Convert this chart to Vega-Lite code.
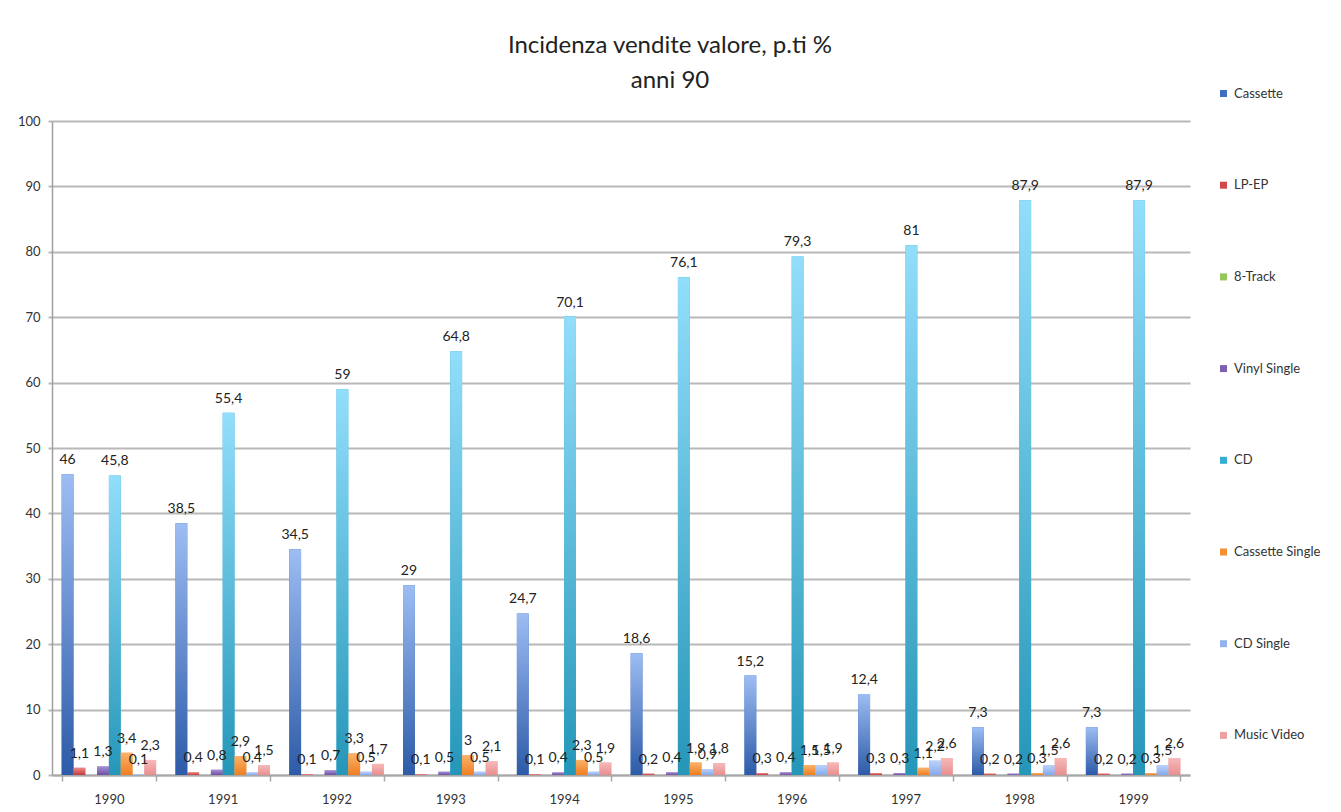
{
  "$schema": "https://vega.github.io/schema/vega-lite/v6.json",
  "autosize": {"type": "none"},
  "padding": {"left": 52, "top": 121, "right": 151, "bottom": 37},
  "width": 1138,
  "height": 654,
  "background": "white",
  "title": {
    "text": ["Incidenza vendite valore, p.ti %", "anni 90"],
    "anchor": "middle",
    "dx": 49,
    "dy": 36,
    "offset": 30,
    "fontSize": 24,
    "fontWeight": "normal",
    "font": "Lato",
    "color": "#222222",
    "lineHeight": 35
  },
  "data": {
    "values": [
      {"anno": "1990", "formato": "Cassette", "quota": 46},
      {"anno": "1990", "formato": "LP-EP", "quota": 1.1},
      {"anno": "1990", "formato": "Vinyl Single", "quota": 1.3},
      {"anno": "1990", "formato": "CD", "quota": 45.8},
      {"anno": "1990", "formato": "Cassette Single", "quota": 3.4},
      {"anno": "1990", "formato": "CD Single", "quota": 0.1},
      {"anno": "1990", "formato": "Music Video", "quota": 2.3},
      {"anno": "1991", "formato": "Cassette", "quota": 38.5},
      {"anno": "1991", "formato": "LP-EP", "quota": 0.4},
      {"anno": "1991", "formato": "Vinyl Single", "quota": 0.8},
      {"anno": "1991", "formato": "CD", "quota": 55.4},
      {"anno": "1991", "formato": "Cassette Single", "quota": 2.9},
      {"anno": "1991", "formato": "CD Single", "quota": 0.4},
      {"anno": "1991", "formato": "Music Video", "quota": 1.5},
      {"anno": "1992", "formato": "Cassette", "quota": 34.5},
      {"anno": "1992", "formato": "LP-EP", "quota": 0.1},
      {"anno": "1992", "formato": "Vinyl Single", "quota": 0.7},
      {"anno": "1992", "formato": "CD", "quota": 59},
      {"anno": "1992", "formato": "Cassette Single", "quota": 3.3},
      {"anno": "1992", "formato": "CD Single", "quota": 0.5},
      {"anno": "1992", "formato": "Music Video", "quota": 1.7},
      {"anno": "1993", "formato": "Cassette", "quota": 29},
      {"anno": "1993", "formato": "LP-EP", "quota": 0.1},
      {"anno": "1993", "formato": "Vinyl Single", "quota": 0.5},
      {"anno": "1993", "formato": "CD", "quota": 64.8},
      {"anno": "1993", "formato": "Cassette Single", "quota": 3},
      {"anno": "1993", "formato": "CD Single", "quota": 0.5},
      {"anno": "1993", "formato": "Music Video", "quota": 2.1},
      {"anno": "1994", "formato": "Cassette", "quota": 24.7},
      {"anno": "1994", "formato": "LP-EP", "quota": 0.1},
      {"anno": "1994", "formato": "Vinyl Single", "quota": 0.4},
      {"anno": "1994", "formato": "CD", "quota": 70.1},
      {"anno": "1994", "formato": "Cassette Single", "quota": 2.3},
      {"anno": "1994", "formato": "CD Single", "quota": 0.5},
      {"anno": "1994", "formato": "Music Video", "quota": 1.9},
      {"anno": "1995", "formato": "Cassette", "quota": 18.6},
      {"anno": "1995", "formato": "LP-EP", "quota": 0.2},
      {"anno": "1995", "formato": "Vinyl Single", "quota": 0.4},
      {"anno": "1995", "formato": "CD", "quota": 76.1},
      {"anno": "1995", "formato": "Cassette Single", "quota": 1.9},
      {"anno": "1995", "formato": "CD Single", "quota": 0.9},
      {"anno": "1995", "formato": "Music Video", "quota": 1.8},
      {"anno": "1996", "formato": "Cassette", "quota": 15.2},
      {"anno": "1996", "formato": "LP-EP", "quota": 0.3},
      {"anno": "1996", "formato": "Vinyl Single", "quota": 0.4},
      {"anno": "1996", "formato": "CD", "quota": 79.3},
      {"anno": "1996", "formato": "Cassette Single", "quota": 1.5},
      {"anno": "1996", "formato": "CD Single", "quota": 1.5},
      {"anno": "1996", "formato": "Music Video", "quota": 1.9},
      {"anno": "1997", "formato": "Cassette", "quota": 12.4},
      {"anno": "1997", "formato": "LP-EP", "quota": 0.3},
      {"anno": "1997", "formato": "Vinyl Single", "quota": 0.3},
      {"anno": "1997", "formato": "CD", "quota": 81},
      {"anno": "1997", "formato": "Cassette Single", "quota": 1.1},
      {"anno": "1997", "formato": "CD Single", "quota": 2.2},
      {"anno": "1997", "formato": "Music Video", "quota": 2.6},
      {"anno": "1998", "formato": "Cassette", "quota": 7.3},
      {"anno": "1998", "formato": "LP-EP", "quota": 0.2},
      {"anno": "1998", "formato": "Vinyl Single", "quota": 0.2},
      {"anno": "1998", "formato": "CD", "quota": 87.9},
      {"anno": "1998", "formato": "Cassette Single", "quota": 0.3},
      {"anno": "1998", "formato": "CD Single", "quota": 1.5},
      {"anno": "1998", "formato": "Music Video", "quota": 2.6},
      {"anno": "1999", "formato": "Cassette", "quota": 7.3},
      {"anno": "1999", "formato": "LP-EP", "quota": 0.2},
      {"anno": "1999", "formato": "Vinyl Single", "quota": 0.2},
      {"anno": "1999", "formato": "CD", "quota": 87.9},
      {"anno": "1999", "formato": "Cassette Single", "quota": 0.3},
      {"anno": "1999", "formato": "CD Single", "quota": 1.5},
      {"anno": "1999", "formato": "Music Video", "quota": 2.6}
    ]
  },
  "encoding": {
    "x": {
      "field": "anno",
      "type": "nominal",
      "title": null,
      "scale": {"paddingInner": 0.17, "paddingOuter": 0.085},
      "axis": {
        "labelAngle": 0,
        "labelFont": "Lato",
        "labelFontSize": 13,
        "labelColor": "#333333",
        "labelPadding": 12,
        "domainColor": "#a8a8a8",
        "domainWidth": 2,
        "tickColor": "#a8a8a8",
        "tickWidth": 1.5,
        "tickSize": 6,
        "tickBand": "extent",
        "grid": false
      }
    },
    "xOffset": {
      "field": "formato",
      "type": "nominal",
      "scale": {
        "domain": ["Cassette", "LP-EP", "8-Track", "Vinyl Single", "CD", "Cassette Single", "CD Single", "Music Video"],
        "paddingInner": 0,
        "paddingOuter": 0
      }
    },
    "y": {
      "field": "quota",
      "type": "quantitative",
      "title": null,
      "scale": {"domain": [0, 100], "nice": false},
      "axis": {
        "values": [0, 10, 20, 30, 40, 50, 60, 70, 80, 90, 100],
        "labelFont": "Lato",
        "labelFontSize": 13,
        "labelColor": "#333333",
        "labelPadding": 8,
        "domainColor": "#a0a0a0",
        "domainWidth": 1.5,
        "tickColor": "#b8b8b8",
        "tickWidth": 2,
        "tickSize": 4,
        "grid": true,
        "gridColor": "#b8b8b8",
        "gridWidth": 2
      }
    }
  },
  "layer": [
    {
      "mark": {"type": "bar"},
      "encoding": {
        "color": {
          "field": "formato",
          "type": "nominal",
          "title": null,
          "scale": {
            "domain": ["Cassette", "LP-EP", "8-Track", "Vinyl Single", "CD", "Cassette Single", "CD Single", "Music Video"],
            "range": ["#3f6fc2", "#d04a4a", "#95c65a", "#7e60b2", "#35aed2", "#f38f36", "#93b3ef", "#eda2a2"]
          },
          "legend": {
            "orient": "none",
            "legendX": 1165,
            "legendY": -34,
            "symbolType": "square",
            "symbolSize": 49,
            "symbolStrokeWidth": 0,
            "labelFont": "Lato",
            "labelFontSize": 13,
            "labelColor": "#333333",
            "labelOffset": 4,
            "rowPadding": 77.7
          }
        }
      }
    },
    {
      "mark": {"type": "bar"},
      "encoding": {
        "fill": {
          "condition": [
            {"test": "datum.formato === 'Cassette'", "value": {"gradient": "linear", "x1": 0, "y1": 1, "x2": 0, "y2": 0, "stops": [{"offset": 0, "color": "#2d5ba8"}, {"offset": 1, "color": "#9dbdf3"}]}},
            {"test": "datum.formato === 'LP-EP'", "value": {"gradient": "linear", "x1": 0, "y1": 1, "x2": 0, "y2": 0, "stops": [{"offset": 0, "color": "#c23b3b"}, {"offset": 1, "color": "#ee8a8a"}]}},
            {"test": "datum.formato === 'Vinyl Single'", "value": {"gradient": "linear", "x1": 0, "y1": 1, "x2": 0, "y2": 0, "stops": [{"offset": 0, "color": "#6e4fa0"}, {"offset": 1, "color": "#a68fd6"}]}},
            {"test": "datum.formato === 'CD'", "value": {"gradient": "linear", "x1": 0, "y1": 1, "x2": 0, "y2": 0, "stops": [{"offset": 0, "color": "#2596b8"}, {"offset": 1, "color": "#92defb"}]}},
            {"test": "datum.formato === 'Cassette Single'", "value": {"gradient": "linear", "x1": 0, "y1": 1, "x2": 0, "y2": 0, "stops": [{"offset": 0, "color": "#ef7e20"}, {"offset": 1, "color": "#fbb26a"}]}},
            {"test": "datum.formato === 'CD Single'", "value": {"gradient": "linear", "x1": 0, "y1": 1, "x2": 0, "y2": 0, "stops": [{"offset": 0, "color": "#86a9ec"}, {"offset": 1, "color": "#bcd2fb"}]}}
          ],
          "value": {"gradient": "linear", "x1": 0, "y1": 1, "x2": 0, "y2": 0, "stops": [{"offset": 0, "color": "#e78f8f"}, {"offset": 1, "color": "#f7b9b9"}]}
        }
      }
    },
    {
      "mark": {"type": "text", "baseline": "alphabetic", "dy": -10, "fontSize": 14, "font": "Lato", "color": "#222222"},
      "encoding": {
        "text": {"field": "quota", "type": "quantitative", "format": ".1~f"}
      }
    }
  ],
  "config": {
    "locale": {
      "number": {"decimal": ",", "thousands": ".", "grouping": [3], "currency": ["€", ""]}
    },
    "view": {"stroke": null}
  }
}
